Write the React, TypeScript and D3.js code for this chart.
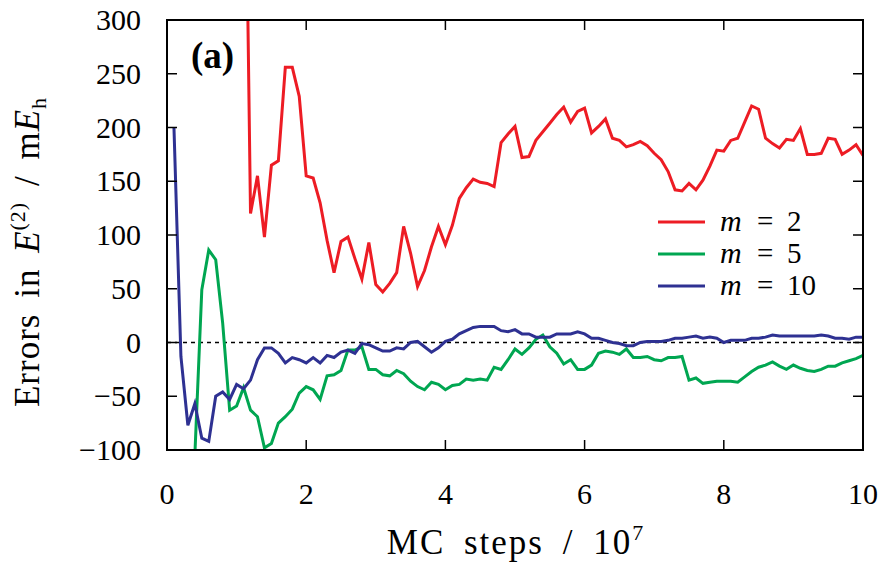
import React from "react";
import * as d3 from "d3";

// Monte Carlo step grid (units of 10^7 steps)
const mcSteps: number[] = d3.range(1, 101).map((i) => i / 10);

// Errors in E^(2) (mE_h) for each m; each series begins at its own step index
const m2Start = 1.1;
const m2Errors = [
  600, 120, 155, 98, 165, 169, 256, 256, 229,
  155, 153, 130, 95, 65, 94, 98, 78, 59, 93,
  54, 47, 55, 65, 108, 83, 52, 67, 89, 108,
  91, 109, 134, 144, 152, 149, 148, 145, 186, 194,
  201, 172, 173, 188, 196, 204, 212, 219, 205, 215,
  218, 195, 201, 208, 190, 188, 182, 184, 187, 183,
  176, 170, 159, 142, 141, 148, 142, 151, 164, 179,
  178, 188, 190, 205, 220, 217, 190, 185, 181, 189,
  188, 199, 175, 175, 176, 190, 189, 175, 179, 184,
  174,
];

const m5Start = 0.3;
const m5Errors = [
  -260, -105, 49, 86, 77, 18, -63,
  -59, -42, -63, -69, -98, -94, -75, -69, -62, -47,
  -41, -44, -53, -31, -30, -26, -7, -7, -4, -25,
  -25, -30, -31, -26, -29, -36, -41, -44, -37, -39,
  -44, -40, -39, -34, -35, -34, -35, -23, -25, -16,
  -6, -11, -5, 3, 7, -4, -10, -20, -16, -25,
  -25, -21, -10, -8, -9, -11, -6, -14, -14, -13,
  -16, -17, -14, -14, -13, -35, -33, -38, -37, -36,
  -36, -36, -37, -32, -27, -23, -21, -18, -22, -25,
  -21, -24, -26, -27, -25, -22, -22, -19, -17, -15,
  -12,
];

const m10Start = 0.1;
const m10Errors = [
  200, -13, -77, -57, -89, -92, -50, -46, -53,
  -39, -43, -35, -16, -5, -5, -10, -19, -14, -16,
  -19, -14, -19, -12, -14, -9, -7, -10, -1, -2,
  -5, -8, -8, -5, -6, 0, 1, -4, -9, -5,
  1, 3, 8, 11, 14, 15, 15, 15, 11, 10,
  12, 8, 8, 5, 5, 5, 8, 8, 8, 10,
  8, 4, 4, 2, 0, -1, -3, -3, 0, 1,
  1, 1, 2, 4, 4, 5, 6, 4, 5, 4,
  0, 2, 2, 2, 4, 4, 5, 7, 6, 6,
  6, 6, 6, 6, 7, 6, 4, 4, 3, 5,
  5,
];

const seriesLabels = ["2", "5", "10"];
const seriesColors = ["#ed1c24", "#00a651", "#2e3192"];

const xTickValues = [0, 2, 4, 6, 8, 10];
const yTickValues = [-100, -50, 0, 50, 100, 150, 200, 250, 300];

const FONT = "'Liberation Serif', 'Times New Roman', serif";

function toPoints(start: number, values: number[]): [number, number][] {
  const i0 = mcSteps.findIndex((s) => Math.abs(s - start) < 1e-9);
  return values.map((v, i) => [mcSteps[i0 + i], v]);
}

export default function App() {
  const width = 882;
  const height = 562;
  const left = 167;
  const right = 863;
  const top = 20;
  const bottom = 450;

  const x = d3.scaleLinear().domain([0, 10]).range([left, right]);
  const y = d3.scaleLinear().domain([-100, 300]).range([bottom, top]);

  const line = d3
    .line<[number, number]>()
    .x((d) => x(d[0]))
    .y((d) => y(d[1]));

  const series = [
    toPoints(m2Start, m2Errors),
    toPoints(m5Start, m5Errors),
    toPoints(m10Start, m10Errors),
  ];

  const fmt = (v: number) => String(v).replace("-", "\u2212");
  const tickLen = 10;

  return (
    <svg
      width={width}
      height={height}
      style={{ position: "absolute", left: 0, top: 0, background: "#fff" }}
      fontFamily={FONT}
    >
      <defs>
        <clipPath id="plot-area">
          <rect x={left} y={top} width={right - left} height={bottom - top} />
        </clipPath>
      </defs>

      {/* zero reference */}
      <line
        x1={left}
        x2={right}
        y1={y(0)}
        y2={y(0)}
        stroke="#000"
        strokeWidth={1.6}
        strokeDasharray="4,4"
      />

      <g clipPath="url(#plot-area)">
        {series.map((pts, i) => (
          <path
            key={i}
            d={line(pts) || ""}
            fill="none"
            stroke={seriesColors[i]}
            strokeWidth={3}
            strokeLinejoin="miter"
          />
        ))}
      </g>

      {/* ticks on all four sides, pointing inward */}
      {xTickValues.map((t) => (
        <g key={"xt" + t}>
          <line x1={x(t)} x2={x(t)} y1={bottom} y2={bottom - tickLen} stroke="#000" strokeWidth={1.5} />
          <line x1={x(t)} x2={x(t)} y1={top} y2={top + tickLen} stroke="#000" strokeWidth={1.5} />
          <text x={x(t)} y={504} fontSize={30} textAnchor="middle" fill="#000">
            {fmt(t)}
          </text>
        </g>
      ))}
      {yTickValues.map((t) => (
        <g key={"yt" + t}>
          <line x1={left} x2={left + tickLen} y1={y(t)} y2={y(t)} stroke="#000" strokeWidth={1.5} />
          <line x1={right} x2={right - tickLen} y1={y(t)} y2={y(t)} stroke="#000" strokeWidth={1.5} />
          <text x={141} y={y(t) + 10} fontSize={30} textAnchor="end" fill="#000">
            {fmt(t)}
          </text>
        </g>
      ))}

      <rect
        x={left}
        y={top}
        width={right - left}
        height={bottom - top}
        fill="none"
        stroke="#000"
        strokeWidth={2}
      />

      {/* panel tag */}
      <text x={191} y={68} fontSize={37} fontWeight="bold" fill="#000">
        (a)
      </text>

      {/* legend */}
      {seriesLabels.map((lab, i) => {
        const ly = 222 + i * 32;
        return (
          <g key={"lg" + i}>
            <line x1={658} x2={705} y1={ly} y2={ly} stroke={seriesColors[i]} strokeWidth={3} />
            <text x={720} y={ly + 9} fontSize={30} fontStyle="italic" fill="#000" letterSpacing={1}>
              m
            </text>
            <text x={757} y={ly + 9} fontSize={29} fill="#000">
              =
            </text>
            <text x={787} y={ly + 9} fontSize={29} fill="#000">
              {lab}
            </text>
          </g>
        );
      })}

      {/* axis titles */}
      <text
        x={516}
        y={554}
        fontSize={35}
        fill="#000"
        textAnchor="middle"
        letterSpacing={2}
        wordSpacing={8}
      >
        MC steps / 10
        <tspan dy={-14} fontSize={22}>7</tspan>
      </text>
      <text
        transform={`translate(39,252) rotate(-90)`}
        fontSize={35}
        fill="#000"
        textAnchor="middle"
        letterSpacing={1}
        wordSpacing={6}
      >
        Errors in <tspan fontStyle="italic">E</tspan>
        <tspan dy={-14} fontSize={22}>(2)</tspan>
        <tspan dy={14}> / m</tspan>
        <tspan fontStyle="italic">E</tspan>
        <tspan dy={7} fontSize={22}>h</tspan>
      </text>
    </svg>
  );
}
